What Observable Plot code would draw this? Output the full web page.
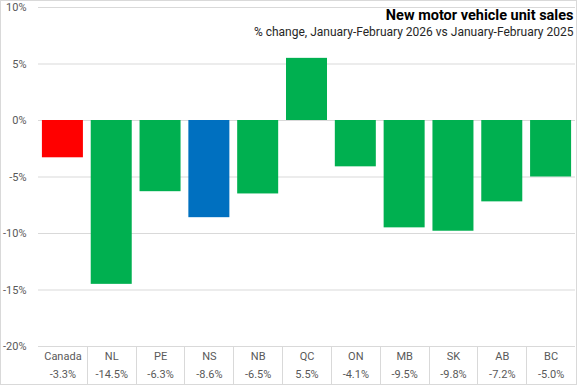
<!DOCTYPE html>
<html>
<head>
<meta charset="utf-8">
<script src="https://cdn.jsdelivr.net/npm/d3@7"></script>
<script src="https://cdn.jsdelivr.net/npm/@observablehq/plot@0.6"></script>
<style>
  html, body { margin: 0; padding: 0; background: #fff; }
  #chart svg { display: block; outline: 1px solid #d9d9d9; outline-offset: -1px; }
</style>
</head>
<body>
<div id="chart"></div>
<script>
const categories = ["Canada", "NL", "PE", "NS", "NB", "QC", "ON", "MB", "SK", "AB", "BC"];
const values = [-3.3, -14.5, -6.3, -8.6, -6.5, 5.5, -4.1, -9.5, -9.8, -7.2, -5.0];
const valueLabels = ["-3.3%", "-14.5%", "-6.3%", "-8.6%", "-6.5%", "5.5%", "-4.1%", "-9.5%", "-9.8%", "-7.2%", "-5.0%"];
const yTicks = [10, 5, 0, -5, -10, -15, -20];
const title = "New motor vehicle unit sales";
const subtitle = "% change, January-February 2026 vs January-February 2025";

const data = categories.map((c, i) => ({cat: c, value: values[i], label: valueLabels[i]}));

const RED = "#FF0000", BLUE = "#0070C0", GREEN = "#00B050";
const fillOf = d => d.cat === "Canada" ? RED : d.cat === "NS" ? BLUE : GREEN;
const FONT = "Roboto, 'Open Sans', sans-serif";

const W = 577, H = 385, ML = 38, MR = 2, MT = 7, MB = 39;

const chart = Plot.plot({
  width: W,
  height: H,
  marginLeft: ML,
  marginRight: MR,
  marginTop: MT,
  marginBottom: MB,
  style: {fontFamily: FONT, fontSize: "11px", background: "#fff"},
  x: {domain: categories, paddingInner: 0.16, paddingOuter: 0.08, round: false, axis: null},
  y: {domain: [-20, 10], axis: null},
  marks: [
    Plot.gridY(yTicks, {stroke: "#d9d9d9", strokeOpacity: 1}),
    Plot.axisY(yTicks, {tickSize: 0, tickPadding: 12, tickFormat: d => d + "%", fill: "#595959", fontSize: 11, label: null}),
    Plot.barY(data, {x: "cat", y: "value", fill: fillOf}),
    Plot.text(data, {x: "cat", y: () => -20, text: "cat", dy: 10, fill: "#595959", fontSize: 11}),
    Plot.text(data, {x: "cat", y: () => -20, text: "label", dy: 28, fill: "#595959", fontSize: 11}),
    Plot.text([title], {frameAnchor: "top-right", dx: -2, dy: 2, fontWeight: "bold", fontSize: 14.5, fill: "#000", lineAnchor: "top"}),
    Plot.text([subtitle], {frameAnchor: "top-right", dx: -2, dy: 20, fontSize: 12, fill: "#262626", lineAnchor: "top"})
  ]
});

// category separators in the label table below the plot, placed with the chart's own x scale
(function addSeparators() {
  const sx = chart.scale("x");
  const bw = sx.bandwidth;
  const y0 = H - MB;
  const y1 = H - 1;
  const g = d3.select(chart).append("g").attr("stroke", "#d9d9d9").attr("stroke-width", 1);
  for (let i = 1; i < categories.length; i++) {
    const xr = sx.apply(categories[i - 1]) + bw;
    const xl = sx.apply(categories[i]);
    const xx = Math.round((xr + xl) / 2) + 0.5;
    g.append("line").attr("x1", xx).attr("x2", xx).attr("y1", y0).attr("y2", y1);
  }
})();

document.getElementById("chart").append(chart);
</script>
</body>
</html>
